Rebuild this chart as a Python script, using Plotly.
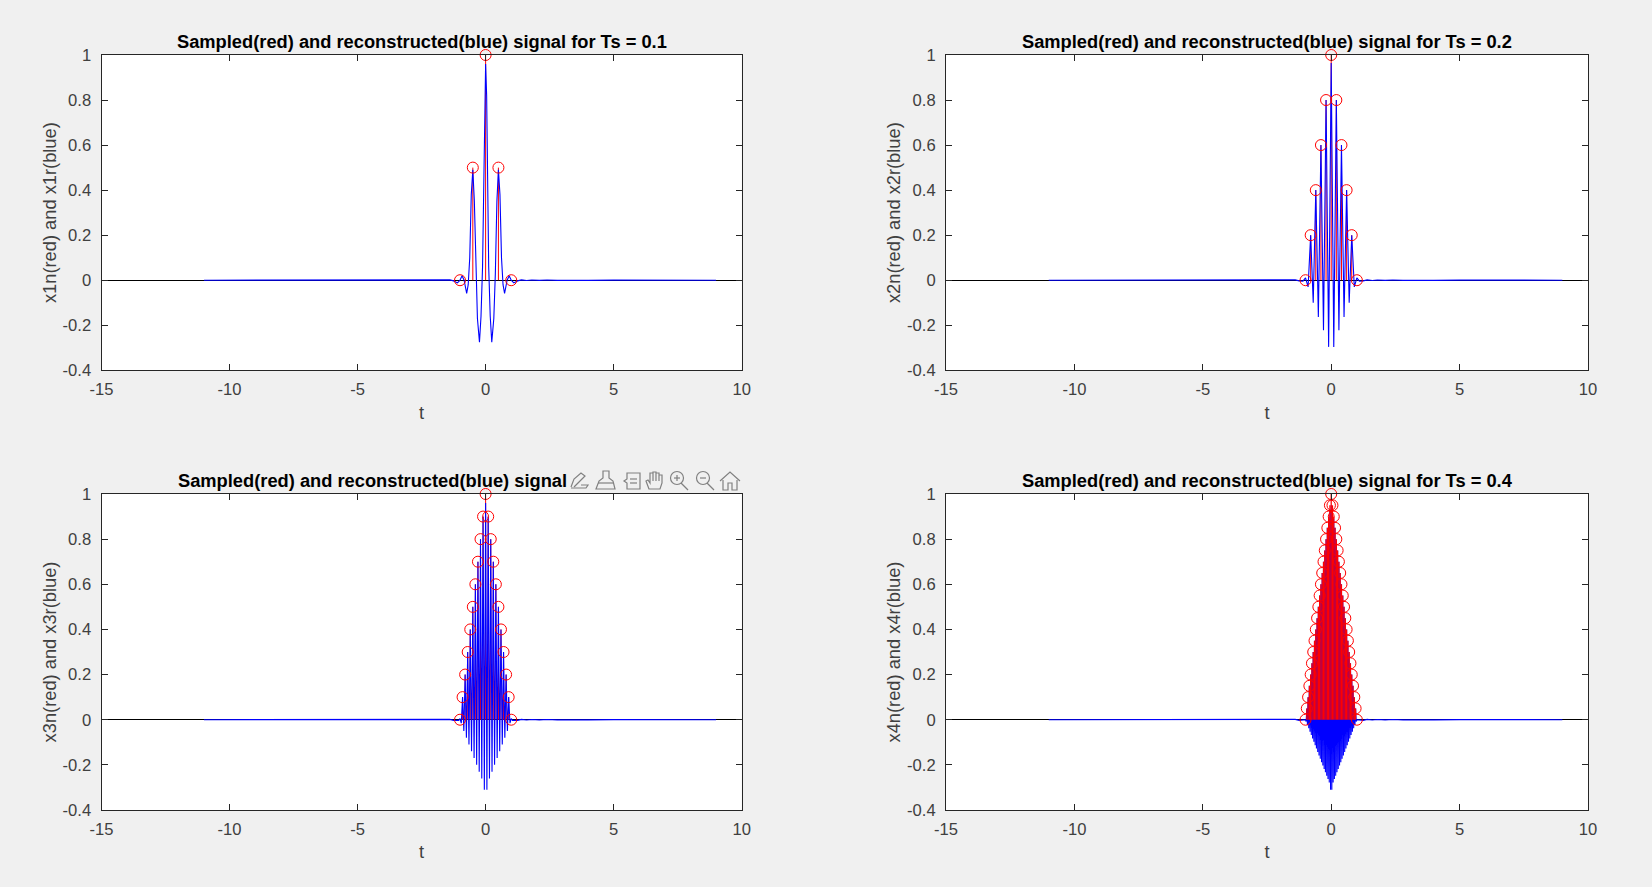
import plotly.graph_objs as go

WIDTH = 1652
HEIGHT = 887

x_ticks = [-15, -10, -5, 0, 5, 10]
x_tick_labels = ['-15', '-10', '-5', '0', '5', '10']
y_ticks = [-0.4, -0.2, 0, 0.2, 0.4, 0.6, 0.8, 1]
y_tick_labels = ['-0.4', '-0.2', '0', '0.2', '0.4', '0.6', '0.8', '1']

titles = [
    'Sampled(red) and reconstructed(blue) signal for Ts = 0.1',
    'Sampled(red) and reconstructed(blue) signal for Ts = 0.2',
    'Sampled(red) and reconstructed(blue) signal',
    'Sampled(red) and reconstructed(blue) signal for Ts = 0.4',
]
y_labels = [
    'x1n(red) and x1r(blue)',
    'x2n(red) and x2r(blue)',
    'x3n(red) and x3r(blue)',
    'x4n(red) and x4r(blue)',
]

# sampled signals
x1n_t = [-1, -0.5, 0, 0.5, 1]
x1n = [0, 0.5, 1, 0.5, 0]

x2n_t = [-1, -0.8, -0.6, -0.4, -0.2, 0, 0.2, 0.4, 0.6, 0.8, 1]
x2n = [0, 0.2, 0.4, 0.6, 0.8, 1, 0.8, 0.6, 0.4, 0.2, 0]

x3n_t = [-1, -0.9, -0.8, -0.7, -0.6, -0.5, -0.4, -0.3, -0.2, -0.1, 0,
         0.1, 0.2, 0.3, 0.4, 0.5, 0.6, 0.7, 0.8, 0.9, 1]
x3n = [0, 0.1, 0.2, 0.3, 0.4, 0.5, 0.6, 0.7, 0.8, 0.9, 1,
       0.9, 0.8, 0.7, 0.6, 0.5, 0.4, 0.3, 0.2, 0.1, 0]

x4n_t = [-1, -0.95, -0.9, -0.85, -0.8, -0.75, -0.7, -0.65, -0.6, -0.55, -0.5,
         -0.45, -0.4, -0.35, -0.3, -0.25, -0.2, -0.15, -0.1, -0.05, 0,
         0.05, 0.1, 0.15, 0.2, 0.25, 0.3, 0.35, 0.4, 0.45, 0.5,
         0.55, 0.6, 0.65, 0.7, 0.75, 0.8, 0.85, 0.9, 0.95, 1]
x4n = [0, 0.05, 0.1, 0.15, 0.2, 0.25, 0.3, 0.35, 0.4, 0.45, 0.5,
       0.55, 0.6, 0.65, 0.7, 0.75, 0.8, 0.85, 0.9, 0.95, 1,
       0.95, 0.9, 0.85, 0.8, 0.75, 0.7, 0.65, 0.6, 0.55, 0.5,
       0.45, 0.4, 0.35, 0.3, 0.25, 0.2, 0.15, 0.1, 0.05, 0]

# reconstructed signals
left_tail_t = [-11, -9, -7, -5, -4, -3.2, -2.8, -2.4, -2.1, -1.8, -1.6, -1.4, -1.25]
left_tail = [0, 0.0005, -0.0005, 0.0005, -0.0005, 0.0005, -0.0005, 0.0008, -0.0008, 0.001, -0.001, 0.0015, -0.003]
right_tail_t = [1.25, 1.4, 1.6, 1.8, 2.1, 2.4, 2.8, 3.2, 4, 5, 7, 9]
right_tail = [-0.003, 0.0015, -0.001, 0.001, -0.0008, 0.0008, -0.0005, 0.0005, -0.0005, 0.0005, -0.0005, 0]

x1r_t = [-1.1, -1.0, -0.92, -0.84, -0.74, -0.68, -0.62, -0.56, -0.5, -0.44, -0.38, -0.32, -0.24,
         -0.18, -0.12, -0.08, -0.04, 0, 0.04, 0.08, 0.12, 0.18, 0.24, 0.32, 0.38, 0.44, 0.5,
         0.56, 0.62, 0.68, 0.74, 0.84, 0.92, 1.0, 1.1]
x1r = [-0.012, 0, 0.02, 0, -0.058, -0.02, 0.1, 0.38, 0.49, 0.35, 0.03, -0.17, -0.275,
       -0.16, 0.06, 0.45, 0.82, 0.96, 0.82, 0.45, 0.06, -0.16, -0.275, -0.17, 0.03, 0.35, 0.49,
       0.38, 0.1, -0.02, -0.058, 0, 0.02, 0, -0.012]

x2r_t = [-1.1, -1, -0.9, -0.8, -0.7, -0.6, -0.5, -0.4, -0.3, -0.2, -0.1, 0,
         0.1, 0.2, 0.3, 0.4, 0.5, 0.6, 0.7, 0.8, 0.9, 1, 1.1]
x2r = [-0.004, 0.01, -0.03, 0.2, -0.1, 0.4, -0.163, 0.6, -0.222, 0.8, -0.296, 0.965,
       -0.296, 0.8, -0.222, 0.6, -0.163, 0.4, -0.1, 0.2, -0.03, 0.01, -0.004]

x3r_t = [-1.05, -1, -0.95, -0.9, -0.85, -0.8, -0.75, -0.7, -0.65, -0.6, -0.55, -0.5,
         -0.45, -0.4, -0.35, -0.3, -0.25, -0.2, -0.15, -0.1, -0.05, 0,
         0.05, 0.1, 0.15, 0.2, 0.25, 0.3, 0.35, 0.4, 0.45, 0.5,
         0.55, 0.6, 0.65, 0.7, 0.75, 0.8, 0.85, 0.9, 0.95, 1, 1.05]
x3r = [-0.003, 0.005, -0.015, 0.1, -0.05, 0.2, -0.08, 0.3, -0.11, 0.4, -0.14, 0.5,
       -0.17, 0.6, -0.2, 0.7, -0.23, 0.8, -0.26, 0.9, -0.31, 0.96,
       -0.31, 0.9, -0.26, 0.8, -0.23, 0.7, -0.2, 0.6, -0.17, 0.5,
       -0.14, 0.4, -0.11, 0.3, -0.08, 0.2, -0.05, 0.1, -0.015, 0.005, -0.003]

x4r_t = [-1, -0.975, -0.95, -0.925, -0.9, -0.875, -0.85, -0.825, -0.8, -0.775, -0.75,
         -0.725, -0.7, -0.675, -0.65, -0.625, -0.6, -0.575, -0.55, -0.525, -0.5,
         -0.475, -0.45, -0.425, -0.4, -0.375, -0.35, -0.325, -0.3, -0.275, -0.25,
         -0.225, -0.2, -0.175, -0.15, -0.125, -0.1, -0.075, -0.05, -0.025, 0,
         0.025, 0.05, 0.075, 0.1, 0.125, 0.15, 0.175, 0.2, 0.225, 0.25,
         0.275, 0.3, 0.325, 0.35, 0.375, 0.4, 0.425, 0.45, 0.475, 0.5,
         0.525, 0.55, 0.575, 0.6, 0.625, 0.65, 0.675, 0.7, 0.725, 0.75,
         0.775, 0.8, 0.825, 0.85, 0.875, 0.9, 0.925, 0.95, 0.975, 1]
x4r = [0, -0.008, 0.05, -0.023, 0.1, -0.038, 0.15, -0.053, 0.2, -0.068, 0.25,
       -0.083, 0.3, -0.098, 0.35, -0.113, 0.4, -0.128, 0.45, -0.143, 0.5,
       -0.158, 0.55, -0.173, 0.6, -0.188, 0.65, -0.203, 0.7, -0.218, 0.75,
       -0.233, 0.8, -0.248, 0.85, -0.263, 0.89, -0.278, 0.93, -0.31, 0.95,
       -0.31, 0.93, -0.278, 0.89, -0.263, 0.85, -0.248, 0.8, -0.233, 0.75,
       -0.218, 0.7, -0.203, 0.65, -0.188, 0.6, -0.173, 0.55, -0.158, 0.5,
       -0.143, 0.45, -0.128, 0.4, -0.113, 0.35, -0.098, 0.3, -0.083, 0.25,
       -0.068, 0.2, -0.053, 0.15, -0.038, 0.1, -0.023, 0.05, -0.008, 0]

sampled = [(x1n_t, x1n), (x2n_t, x2n), (x3n_t, x3n), (x4n_t, x4n)]
reconstructed = [(x1r_t, x1r), (x2r_t, x2r), (x3r_t, x3r), (x4r_t, x4r)]

# axes boxes in page pixels: left, right, top, bottom
boxes = [
    (101.5, 741.7, 55, 370.3),
    (946, 1588, 55, 370.3),
    (101.5, 741.7, 494, 810),
    (946, 1588, 494, 810),
]

ICON_COLOR = '#808080'


def px(x):
    return x / WIDTH


def py(y):
    return 1 - y / HEIGHT


def icon(points, close=False):
    path = 'M ' + ' L '.join('%.5f %.5f' % (px(x - 1), py(y - 1)) for x, y in points)
    if close:
        path += ' Z'
    return dict(type='path', xref='paper', yref='paper', path=path,
                line=dict(color=ICON_COLOR, width=1.2))


def ring(cx, cy, r):
    cx = cx - 1
    cy = cy - 1
    return dict(type='circle', xref='paper', yref='paper',
                x0=px(cx - r), x1=px(cx + r), y0=py(cy + r), y1=py(cy - r),
                line=dict(color=ICON_COLOR, width=1.2))


# figure toolbar that hovers over the third title
toolbar = [
    icon([(572, 488), (575, 480), (582, 474), (586, 477), (579, 484), (575, 488)]),
    icon([(572, 489), (587, 489), (589, 486), (582, 486)]),
    icon([(597, 490), (600, 482), (604, 479), (604, 472), (610, 472), (610, 479), (614, 482), (616, 490)], True),
    icon([(599, 484), (614, 484)]),
    icon([(628, 474), (641, 474), (641, 490), (628, 490), (628, 484), (625, 482), (628, 480)], True),
    icon([(631, 480), (638, 480)]),
    icon([(631, 484), (638, 484)]),
    icon([(650, 490), (647, 482), (649, 481), (651, 484), (651, 474), (654, 474), (654, 482),
          (654, 473), (657, 473), (657, 482), (657, 474), (660, 474), (660, 482), (660, 476),
          (663, 476), (663, 484), (661, 490)], True),
    ring(678, 479, 6.5),
    icon([(682, 484), (689, 491)]),
    icon([(678, 476), (678, 482)]),
    icon([(675, 479), (681, 479)]),
    ring(704, 479, 6.5),
    icon([(708, 484), (715, 491)]),
    icon([(701, 479), (707, 479)]),
    icon([(721, 482), (731, 473), (741, 482)]),
    icon([(724, 481), (724, 491), (729, 491), (729, 484), (733, 484), (733, 491), (738, 491), (738, 481)]),
]

fig = go.Figure()
annotations = []

for i in range(4):
    n = '' if i == 0 else str(i + 1)
    left, right, top, bottom = boxes[i]
    axis = dict(
        showline=True, mirror='allticks', linecolor='#262626', linewidth=1,
        ticks='inside', ticklen=6, tickcolor='#262626', tickwidth=1, automargin=False,
        showgrid=False, tickfont=dict(family='Liberation Sans', size=16.6, color='#404040'),
    )
    fig.layout['xaxis' + n] = dict(
        axis, domain=[px(left), px(right)], range=[-15, 10], anchor='y' + n,
        tickvals=x_ticks, ticktext=x_tick_labels, zeroline=False, ticklabelstandoff=4,
        title=dict(text='t', standoff=7, font=dict(family='Liberation Sans', size=18.3, color='#404040')),
    )
    fig.layout['yaxis' + n] = dict(
        axis, domain=[py(bottom), py(top)], range=[-0.4, 1], anchor='x' + n,
        tickvals=y_ticks, ticktext=y_tick_labels, ticklabelstandoff=6,
        zeroline=True, zerolinecolor='#000000', zerolinewidth=1,
        title=dict(text=y_labels[i], standoff=1, font=dict(family='Liberation Sans', size=18.3, color='#404040')),
    )

    t_r, y_r = reconstructed[i]
    t_s, y_s = sampled[i]
    stems = go.Scatter(
        x=t_s, y=y_s,
        mode='markers',
        marker=dict(size=1, opacity=0),
        error_y=dict(type='data', symmetric=False, array=[0] * len(y_s), arrayminus=y_s,
                     color='#ff0000', thickness=1.25 if i == 3 else 1, width=0),
        xaxis='x' + n, yaxis='y' + n,
    )
    line = go.Scatter(
        x=left_tail_t + t_r + right_tail_t,
        y=left_tail + y_r + right_tail,
        mode='lines',
        line=dict(color='#0000ff', width=1.1),
        xaxis='x' + n, yaxis='y' + n,
    )
    circles = go.Scatter(
        x=t_s, y=y_s,
        mode='markers',
        marker=dict(symbol='circle-open', size=11, color='#ff0000', line=dict(width=1)),
        cliponaxis=False,
        xaxis='x' + n, yaxis='y' + n,
    )
    # the densest panel reads red over blue, the others blue over red
    if i == 3:
        fig.add_traces([line, stems, circles])
    else:
        fig.add_traces([stems, line, circles])

    annotations.append(dict(
        text='<b>' + titles[i] + '</b>',
        xref='paper', yref='paper',
        x=px(176) if i == 2 else px((left + right) / 2),
        xanchor='left' if i == 2 else 'center',
        y=py(top - 1.5), yanchor='bottom',
        showarrow=False,
        font=dict(family='Liberation Sans', size=18.3, color='#000000'),
    ))

fig.update_layout(
    width=WIDTH, height=HEIGHT,
    margin=dict(l=0, r=0, t=0, b=0),
    paper_bgcolor='#f0f0f0', plot_bgcolor='#ffffff',
    showlegend=False,
    annotations=annotations,
    shapes=toolbar,
)

fig.write_html("out.html", config={'displayModeBar': False},
               post_script="document.body.style.margin='0';")
